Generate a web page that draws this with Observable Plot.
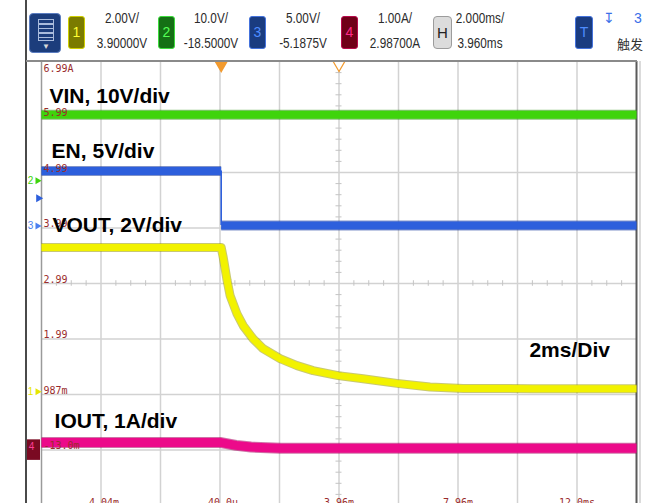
<!DOCTYPE html>
<html><head><meta charset="utf-8">
<script src="https://cdn.jsdelivr.net/npm/d3@7"></script>
<script src="https://cdn.jsdelivr.net/npm/@observablehq/plot@0.6"></script>
<style>
html,body{margin:0;padding:0;background:#fff;}
#wrap{position:relative;width:665px;height:503px;overflow:hidden;font-family:"Liberation Sans",Arial,sans-serif;}
#chart{position:absolute;left:0;top:0;}
#hdr{position:absolute;left:0;top:0;width:665px;height:503px;pointer-events:none;}
.abs{position:absolute;}
.box{position:absolute;box-sizing:border-box;border-radius:3px;text-align:center;font-size:14px;}
.txt{position:absolute;font-size:14px;color:#2b2b2b;white-space:nowrap;transform:translateX(-50%) scaleX(0.84);transform-origin:center;}
</style></head><body>
<div id="wrap"><div id="chart"></div><div id="hdr"></div></div>
<script>
// ---------- data ----------
// time axis: 2 ms/div, 10 div, centre 3.96 ms
const timeGrid = [-6.04, -4.04, -2.04, -0.04, 1.96, 3.96, 5.96, 7.96, 9.96, 11.96, 13.96];
const timeTickValues = [-4.04, -0.04, 3.96, 7.96, 11.96];
const timeTickLabels = ["-4.04m", "-40.0u", "3.96m", "7.96m", "12.0ms"];
// vertical divisions and channel-4 readout labels
const divGrid = [-3, -2, -1, 0, 1, 2, 3];
const ch4LabelDivs = [4, 3, 2, 1, 0, -1, -2, -3];
const ch4LabelText = ["6.99A", "5.99", "4.99", "3.99", "2.99", "1.99", "987m", "-13.0m"];

// channel settings: 1 VOUT, 2 VIN, 3 EN, 4 IOUT
const chNames   = ["VOUT", "VIN", "EN", "IOUT"];
const chPerDiv  = [2.00, 10.0, 5.00, 1.00];
const chOffset  = [3.9, -18.5, -5.1875, 2.987];

// traces (time in ms, value in V or A)
const vinT  = [-6.04, 13.96];
const vinV  = [11.9, 11.9];
const enT   = [-6.04, 0, 0, 13.96];
const enV   = [4.95, 4.95, 0.04, 0.04];
const voutT = [-6.04, 0, 0.07, 0.2, 0.3, 0.53, 0.74, 1.07, 1.41, 1.98, 2.55, 3.09, 3.93, 4.77, 5.91, 7.02, 8.13, 10.48, 13.96];
const voutV = [5.2, 5.2, 4.83, 4.0, 3.46, 2.81, 2.38, 1.91, 1.55, 1.19, 0.94, 0.76, 0.58, 0.47, 0.3, 0.17, 0.12, 0.11, 0.11];
const ioutT = [-6.04, 0, 0.5, 1.0, 2.0, 13.96];
const ioutA = [0.12, 0.12, 0.07, 0.04, 0.02, 0.02];

// annotations
const noteText = ["VIN, 10V/div", "EN, 5V/div", "VOUT, 2V/div", "IOUT, 1A/div", "2ms/Div"];
const noteT    = [-5.77, -5.70, -5.67, -5.60, 10.36];
const noteDiv  = [3.26, 2.27, 0.92, -2.595, -1.333];
const trigLevelEN = 2.5;

// header readouts
const hdrIds     = ["1", "2", "3", "4"];
const hdrScale   = ["2.00V/", "10.0V/", "5.00V/", "1.00A/"];
const hdrOffset  = ["3.90000V", "-18.5000V", "-5.1875V", "2.98700A"];
const hdrTime    = ["2.000ms/", "3.960ms"];

// ---------- drawing ----------
const toDiv = (v, ch) => (v - chOffset[ch]) / chPerDiv[ch];
function trace(ts, vs, ch) {
  const pts = [], edges = []; let seg = 0;
  for (let k = 0; k < ts.length; k++) {
    if (k > 0 && ts[k] === ts[k - 1]) { edges.push({t: ts[k], d1: toDiv(vs[k - 1], ch), d2: toDiv(vs[k], ch)}); seg++; }
    pts.push({t: ts[k], d: toDiv(vs[k], ch), seg});
  }
  return {pts, edges};
}
function traceMarks(tr, col, dark, w) {
  return [
    Plot.line(tr.pts, {x: "t", y: "d", z: "seg", stroke: dark, strokeWidth: w + 2, strokeOpacity: 0.55, strokeLinejoin: "round", strokeLinecap: "butt"}),
    Plot.line(tr.pts, {x: "t", y: "d", z: "seg", stroke: col, strokeWidth: w, strokeLinejoin: "round", strokeLinecap: "butt"}),
    Plot.ruleX(tr.edges, {x: "t", y1: "d1", y2: "d2", stroke: col, strokeWidth: 1.6})
  ];
}
const tVin = trace(vinT, vinV, 1), tEn = trace(enT, enV, 2), tOut = trace(voutT, voutV, 0), tI = trace(ioutT, ioutA, 3);

const x0 = timeGrid[0], x1 = timeGrid[timeGrid.length - 1];
const pxPerMs = 595 / (x1 - x0);
const centreT = 3.96;
const minorY = d3.range(-19, 20).filter(k => k % 5 !== 0).map(k => k / 5);
const minorX = d3.range(1, 40).filter(k => k % 4 !== 0).map(k => x0 + k * 0.5);
const mono = "DejaVu Sans Mono, monospace";
const lblCol = "#9a2b2b";
const ch4Rows = ch4LabelDivs.map((d, i) => ({d, s: ch4LabelText[i]}));
const noteRows = noteText.map((s, i) => ({s, t: noteT[i], d: noteDiv[i]}));
const tickRows = timeTickValues.map((t, i) => ({t, s: timeTickLabels[i]}));

const chart = Plot.plot({
  width: 665, height: 503,
  marginLeft: 41, marginRight: 29, marginTop: 61, marginBottom: 0,
  x: {domain: [x0, x1], axis: null},
  y: {domain: [-4 + 2 / 55.5, 4], axis: null},
  style: {background: "transparent", overflow: "visible"},
  marks: [
    Plot.ruleX(timeGrid.slice(1, -1), {stroke: "#d2d2d2", strokeWidth: 1.5}),
    Plot.ruleY(divGrid, {stroke: "#d2d2d2", strokeWidth: 1.5}),
    Plot.ruleY(minorY, {x1: centreT - 3 / pxPerMs, x2: centreT + 3 / pxPerMs, stroke: "#c4c4c4"}),
    Plot.ruleX(minorX, {y1: -0.05, y2: 0.05, stroke: "#c4c4c4"}),
    Plot.ruleX([x0], {stroke: "#9a9a9a", strokeWidth: 1.5}),
    Plot.ruleX([x1], {stroke: "#5a5a5a", strokeWidth: 2}),
    Plot.ruleX([x1], {stroke: "#cfcfcf", strokeWidth: 1.5, dx: 3.5}),
    ...traceMarks(tVin, "#3fd40c", "#2c8f12", 8),
    ...traceMarks(tEn, "#2d5fdc", "#1a3a9c", 8),
    ...traceMarks(tOut, "#f2f200", "#9a9a00", 7),
    ...traceMarks(tI, "#ec0a8a", "#a8005e", 9),
    // channel-4 readout labels
    Plot.text(ch4Rows.filter(r => r.d === 4), {x: x0, y: "d", text: "s", textAnchor: "start", lineAnchor: "top", dx: 2, dy: 3, fill: lblCol, fontFamily: mono, fontSize: 10}),
    Plot.text(ch4Rows.filter(r => r.d !== 4), {x: x0, y: "d", text: "s", textAnchor: "start", lineAnchor: "bottom", dx: 2, dy: -1, fill: lblCol, fontFamily: mono, fontSize: 10}),
    // time labels (partly cut by the bottom edge)
    Plot.text(tickRows, {x: "t", y: -4 + 2 / 55.5, text: "s", textAnchor: "middle", lineAnchor: "bottom", dy: 2, fill: lblCol, fontFamily: mono, fontSize: 10}),
    // top markers: trigger time (filled) and centre (hollow)
    Plot.dot([0], {x: d => d, y: 4, symbol: "triangle", rotate: 180, r: 4.5, dy: 3, fill: "#f29a2e", stroke: "#f29a2e"}),
    Plot.dot([centreT], {x: d => d, y: 4, symbol: "triangle", rotate: 180, r: 4.5, dy: 3, fill: "white", stroke: "#f29a2e", strokeWidth: 1.2}),
    // left channel markers
    Plot.text([toDiv(0, 1)], {x: x0, y: d => d, text: () => "2", dx: -11, fill: "#3fd40c", fontFamily: "Liberation Sans", fontSize: 10}),
    Plot.dot([toDiv(0, 1)], {x: x0, y: d => d, symbol: "triangle", rotate: 90, r: 2.6, dx: -4, fill: "#3fd40c"}),
    Plot.dot([toDiv(trigLevelEN, 2)], {x: x0, y: d => d, symbol: "triangle", rotate: 90, r: 3, dx: -3, fill: "#2d5fdc"}),
    Plot.text([toDiv(0, 2)], {x: x0, y: d => d, text: () => "3", dx: -11, fill: "#4a7ff0", fontFamily: "Liberation Sans", fontSize: 10}),
    Plot.dot([toDiv(0, 2)], {x: x0, y: d => d, symbol: "triangle", rotate: 90, r: 2.6, dx: -4, fill: "#4a7ff0"}),
    Plot.text([toDiv(0, 0)], {x: x0, y: d => d, text: () => "1", dx: -11, fill: "#e6e600", fontFamily: "Liberation Sans", fontSize: 10}),
    Plot.dot([toDiv(0, 0)], {x: x0, y: d => d, symbol: "triangle", rotate: 90, r: 2.6, dx: -4, fill: "#e6e600"}),
    Plot.rect([toDiv(0, 3)], {x1: x0 - 15 / pxPerMs, x2: x0 - 1 / pxPerMs, y1: d => d - 0.2, y2: d => d + 0.17, fill: "#7a0a22"}),
    Plot.text([toDiv(0, 3)], {x: x0, y: d => d, text: () => "4", dx: -10, dy: -2, fill: "#ff3d9a", fontFamily: "Liberation Sans", fontSize: 10}),
    // annotations
    Plot.text(noteRows, {x: "t", y: "d", text: "s", textAnchor: "start", lineAnchor: "bottom", fill: "#000", fontFamily: "Liberation Sans, Arial, sans-serif", fontWeight: "bold", fontSize: 21})
  ]
});
document.getElementById("chart").appendChild(chart);

// ---------- header (HTML) ----------
const hdr = document.getElementById("hdr");
function el(cls, css, html) { const d = document.createElement("div"); d.className = cls; d.style.cssText = css; if (html != null) d.innerHTML = html; hdr.appendChild(d); return d; }
el("abs", "left:25px;top:0;width:1.5px;height:503px;background:#4a4a4a;");
el("abs", "left:26px;top:60px;width:611px;height:1.5px;background:#8a8a8a;");
// menu icon
const ic = el("box", "left:29px;top:13px;width:32px;height:40px;background:#1c3d7c;border:1px solid #5a7cc0;border-radius:4px;");
const inner = document.createElement("div");
inner.style.cssText = "position:absolute;left:8px;top:5px;width:14px;height:20px;border:1.5px solid #a9bbdc;background:repeating-linear-gradient(#1c3d7c 0 3px,#a9bbdc 3px 4.5px);";
ic.appendChild(inner);
const arr = document.createElement("div");
arr.style.cssText = "position:absolute;left:12px;top:28px;font-size:8px;color:#d8d8d8;";
arr.textContent = "▼"; ic.appendChild(arr);
const boxX = [68, 158, 249, 341];
const boxFill = ["#7b7b00", "#157015", "#1a3c80", "#700018"];
const boxBorder = ["#cfcf00", "#3ddc3d", "#4472dc", "#b80a4c"];
const boxText = ["#ffff33", "#55ff55", "#4f8dff", "#ff2a8a"];
const textX = [122, 211, 303, 395];
hdrIds.forEach((id, i) => {
  el("box", `left:${boxX[i]}px;top:16px;width:17px;height:33px;background:${boxFill[i]};border:1.5px solid ${boxBorder[i]};color:${boxText[i]};line-height:31px;`, id);
  el("txt", `left:${textX[i]}px;top:10px;`, hdrScale[i]);
  el("txt", `left:${textX[i]}px;top:35px;`, hdrOffset[i]);
});
el("box", "left:433px;top:16px;width:19px;height:33px;background:#dcdcdc;border:1.5px solid #9c9c9c;border-radius:4px;color:#222;line-height:31px;font-size:15px;", "H");
el("txt", "left:480px;top:10px;", hdrTime[0]);
el("txt", "left:480px;top:35px;", hdrTime[1]);
el("box", "left:575px;top:16px;width:18px;height:33px;background:#1a3c80;border:1.5px solid #4472dc;color:#4f8dff;line-height:31px;", "T");
el("abs", "left:603px;top:10px;font-size:14px;color:#3a6fe8;font-family:'DejaVu Sans';", "↧");
el("abs", "left:634px;top:10px;font-size:14px;color:#3a6fe8;", "3");
el("abs", "left:617px;top:34px;font-size:13px;color:#333;font-family:'Noto Sans CJK SC';", "触发");
</script>
</body></html>
